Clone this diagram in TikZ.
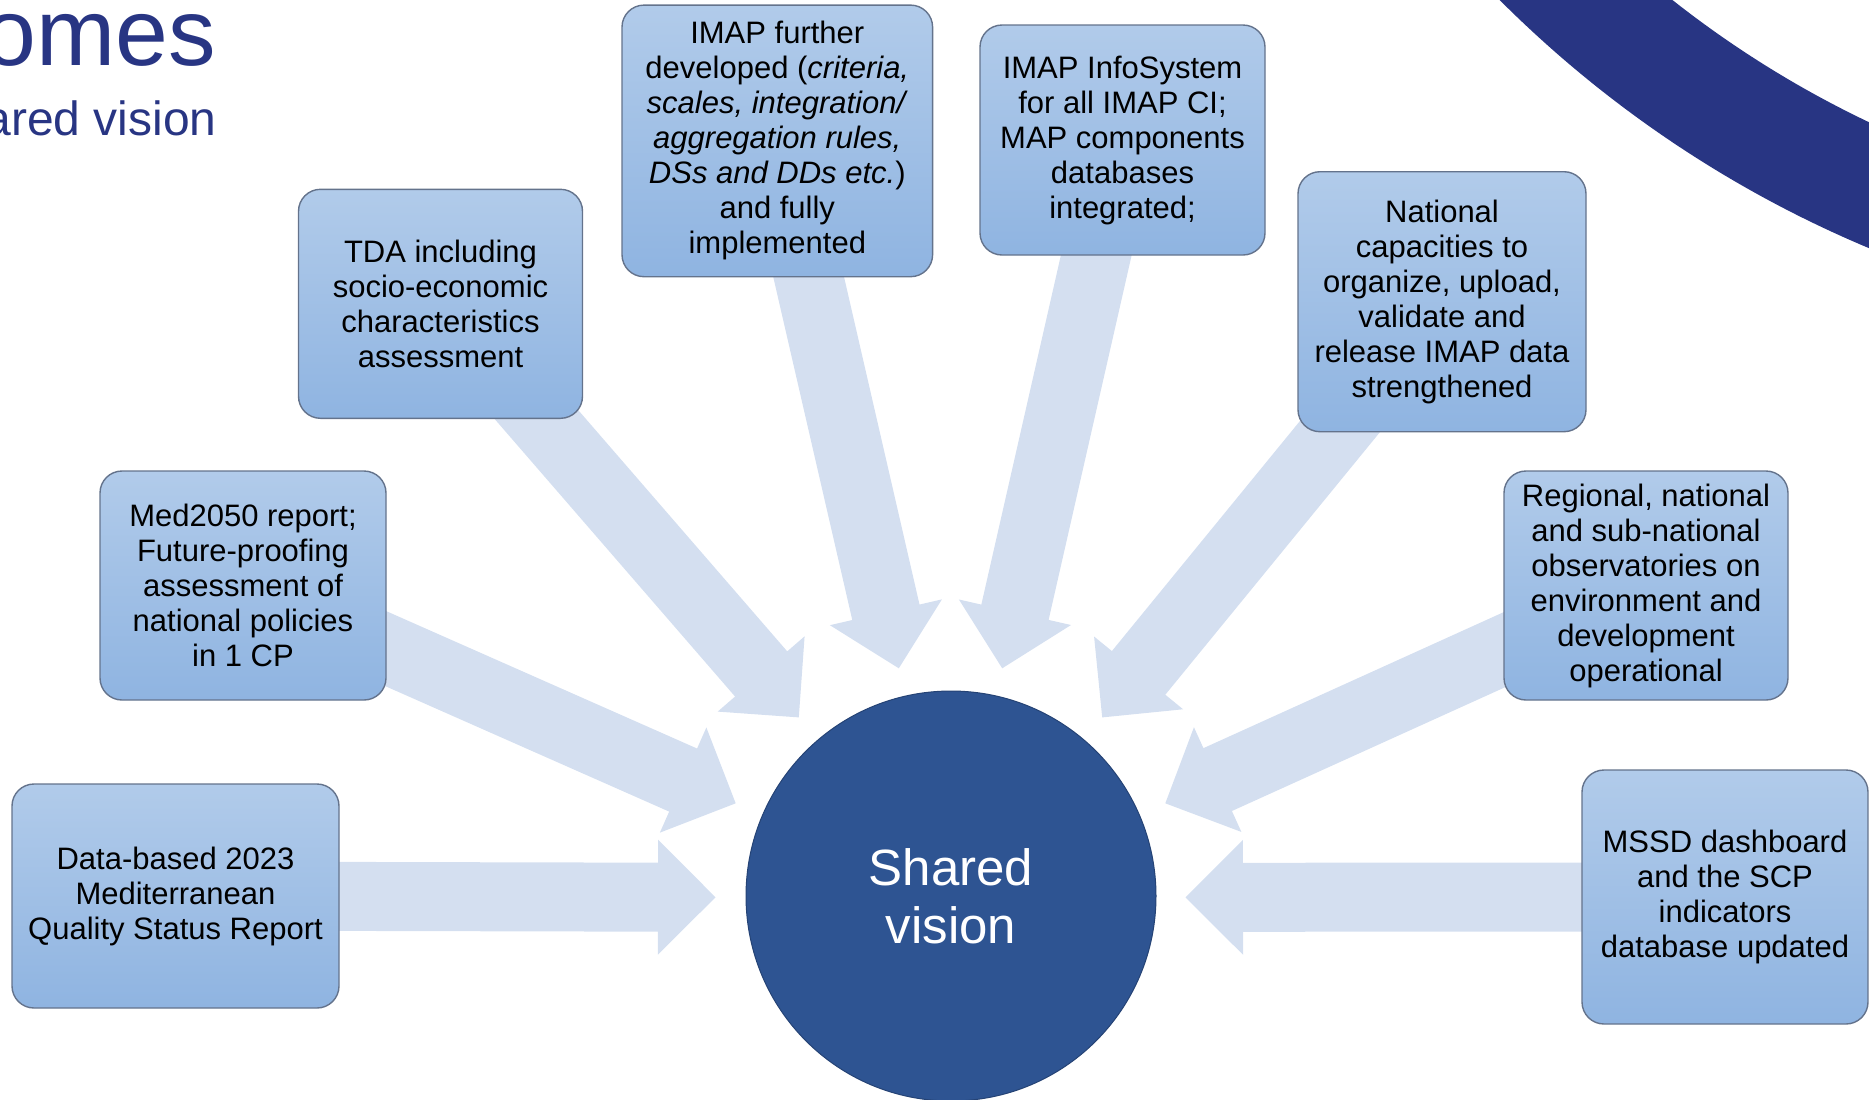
\documentclass[tikz,border=0pt]{standalone}
\usepackage{fontspec}
\setmainfont{Liberation Sans}
\usetikzlibrary{calc,backgrounds}

\definecolor{titleblue}{RGB}{40,53,131}
\definecolor{visionblue}{RGB}{46,84,146}
\definecolor{arrowblue}{RGB}{212,223,240}
\definecolor{boxtop}{RGB}{177,203,234}
\definecolor{boxbottom}{RGB}{143,180,225}
\definecolor{boxline}{RGB}{100,115,140}

\tikzset{
  outcome/.style={rectangle, rounded corners=11pt, draw=boxline, line width=0.7pt,
    top color=boxtop, bottom color=boxbottom, align=center, inner sep=0pt,
    font=\fontsize{15.5}{17.5}\selectfont},
  bigarrow/.style={fill=arrowblue},
}

% block arrow: shaft from #1, head ends at #2
\newcommand{\blockarrow}[2]{%
  \coordinate (base) at ($(#2)!28.75pt!(#1)$);
  \fill[bigarrow] ($(#1)!17.25pt!90:(#2)$) -- ($(base)!17.25pt!90:(#2)$) -- ($(base)!28.75pt!90:(#2)$)
    -- (#2) -- ($(base)!28.75pt!-90:(#2)$) -- ($(base)!17.25pt!-90:(#2)$) -- ($(#1)!17.25pt!-90:(#2)$) -- cycle;
}

\begin{document}
\begin{tikzpicture}[x=0.5pt, y=0.5pt]
    \useasboundingbox (0,0) rectangle (1869,-1099);
    \clip (0,0) rectangle (1869,-1099);

    % title and the band in the corner
    \node[anchor=base east, inner sep=0pt, text=titleblue, font=\fontsize{47.5}{50}\selectfont] (title) at (216,-65) {omes};
    \node[anchor=base east, inner sep=0pt, text=titleblue, font=\fontsize{24}{26}\selectfont] (subtitle) at (217,-135) {ared vision};
    \draw[titleblue, line width=57.5pt] (2313,813) circle[radius=1092.5];

    \node[circle, minimum size=205pt, inner sep=0pt, fill=visionblue, draw=visionblue!80!black, line width=0.5pt,
      text=white, align=center, font=\fontsize{25.5}{29}\selectfont] (vision) at (951,-896) {Shared\\vision};

    \node[outcome, minimum width=163.5pt, minimum height=112pt] (data) at (175.5,-896) {Data-based 2023\\Mediterranean\\Quality Status Report};
    \node[outcome, minimum width=143pt, minimum height=114.5pt] (med) at (243,-585.5) {Med2050 report;\\Future-proofing\\assessment of\\national policies\\in 1 CP};
    \node[outcome, minimum width=142pt, minimum height=114.5pt] (tda) at (440.5,-303.8) {TDA including\\socio-economic\\characteristics\\assessment};
    \node[outcome, minimum width=155.3pt, minimum height=135.8pt] (imap) at (777.3,-140.9) {IMAP further\\developed (\textit{criteria,}\\\textit{scales, integration/}\\\textit{aggregation rules,}\\\textit{DSs and DDs etc.})\\and fully\\implemented};
    \node[outcome, minimum width=142.5pt, minimum height=115pt] (info) at (1122.5,-140) {IMAP InfoSystem\\for all IMAP CI;\\MAP components\\databases\\integrated;};
    \node[outcome, minimum width=144pt, minimum height=130pt] (nat) at (1442,-301.7) {National\\capacities to\\organize, upload,\\validate and\\release IMAP data\\strengthened};
    \node[outcome, minimum width=142pt, minimum height=114.5pt] (reg) at (1646,-585.5) {Regional, national\\and sub-national\\observatories on\\environment and\\development\\operational};
    \node[outcome, minimum width=143pt, minimum height=127pt] (mssd) at (1725,-897) {MSSD dashboard\\and the SCP\\indicators\\database updated};

    \coordinate (tipData) at (715.5,-897.3);
    \coordinate (tipMed) at (735.7,-803.3);
    \coordinate (tipTda) at (798.8,-717.4);
    \coordinate (tipImap) at (898.8,-668.3);
    \coordinate (tipInfo) at (1002.2,-668.3);
    \coordinate (tipNat) at (1102.2,-717.4);
    \coordinate (tipReg) at (1165.3,-803.3);
    \coordinate (tipMssd) at (1185.5,-897.3);

    \begin{scope}[on background layer]
        \blockarrow{data.center}{tipData}
        \blockarrow{med.center}{tipMed}
        \blockarrow{tda.center}{tipTda}
        \blockarrow{imap.center}{tipImap}
        \blockarrow{info.center}{tipInfo}
        \blockarrow{nat.center}{tipNat}
        \blockarrow{reg.center}{tipReg}
        \blockarrow{mssd.center}{tipMssd}
    \end{scope}

\end{tikzpicture}
\end{document}
